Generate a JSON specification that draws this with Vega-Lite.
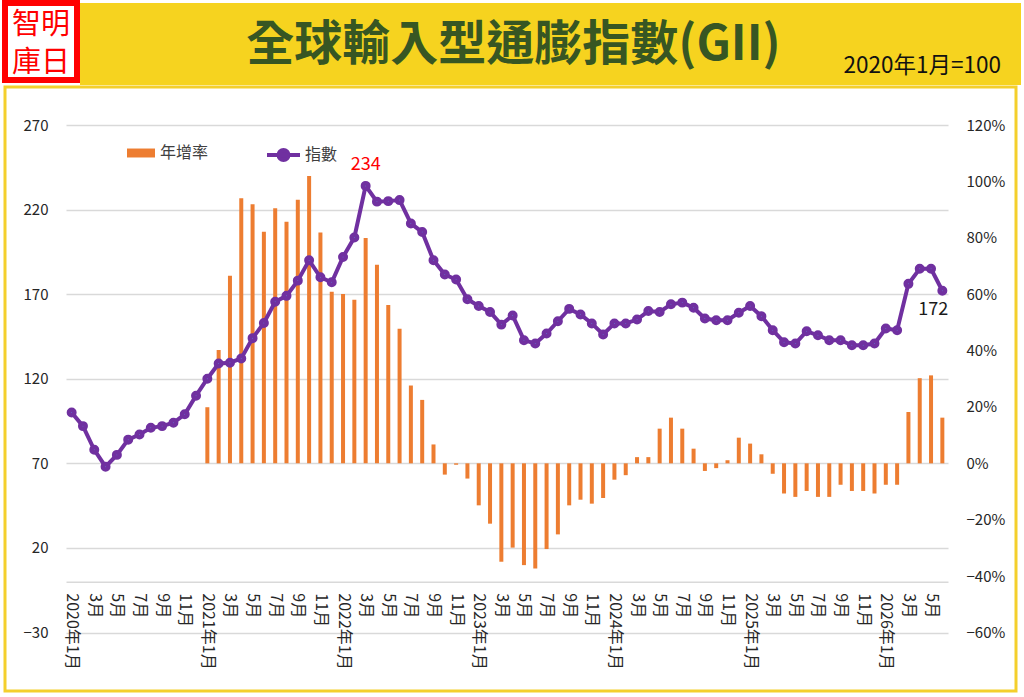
{
  "$schema": "https://vega.github.io/schema/vega-lite/v6.json",
  "background": "white",
  "padding": {"left": 2, "top": 0, "right": 6, "bottom": 5},
  "config": {
    "font": "Noto Sans CJK TC",
    "view": {"stroke": null},
    "concat": {"spacing": 0}
  },
  "datasets": {
    "gii": [
      {"month": "2020-01", "index": 100},
      {"month": "2020-02", "index": 92},
      {"month": "2020-03", "index": 78},
      {"month": "2020-04", "index": 68},
      {"month": "2020-05", "index": 75},
      {"month": "2020-06", "index": 84},
      {"month": "2020-07", "index": 87},
      {"month": "2020-08", "index": 91},
      {"month": "2020-09", "index": 92},
      {"month": "2020-10", "index": 94},
      {"month": "2020-11", "index": 99},
      {"month": "2020-12", "index": 110},
      {"month": "2021-01", "index": 120, "yoy": 0.199},
      {"month": "2021-02", "index": 129, "yoy": 0.402},
      {"month": "2021-03", "index": 129.5, "yoy": 0.665},
      {"month": "2021-04", "index": 132, "yoy": 0.94},
      {"month": "2021-05", "index": 144, "yoy": 0.919},
      {"month": "2021-06", "index": 153, "yoy": 0.821},
      {"month": "2021-07", "index": 165.5, "yoy": 0.905},
      {"month": "2021-08", "index": 169, "yoy": 0.857},
      {"month": "2021-09", "index": 178, "yoy": 0.935},
      {"month": "2021-10", "index": 190, "yoy": 1.019},
      {"month": "2021-11", "index": 180, "yoy": 0.819},
      {"month": "2021-12", "index": 177, "yoy": 0.609},
      {"month": "2022-01", "index": 192, "yoy": 0.601},
      {"month": "2022-02", "index": 203.5, "yoy": 0.58},
      {"month": "2022-03", "index": 234, "yoy": 0.799},
      {"month": "2022-04", "index": 224.7, "yoy": 0.704},
      {"month": "2022-05", "index": 225, "yoy": 0.562},
      {"month": "2022-06", "index": 225.6, "yoy": 0.477},
      {"month": "2022-07", "index": 211.8, "yoy": 0.276},
      {"month": "2022-08", "index": 206.7, "yoy": 0.225},
      {"month": "2022-09", "index": 190, "yoy": 0.067},
      {"month": "2022-10", "index": 181.6, "yoy": -0.04},
      {"month": "2022-11", "index": 178.7, "yoy": -0.005},
      {"month": "2022-12", "index": 167, "yoy": -0.054},
      {"month": "2023-01", "index": 163, "yoy": -0.149},
      {"month": "2023-02", "index": 159.5, "yoy": -0.214},
      {"month": "2023-03", "index": 152, "yoy": -0.349},
      {"month": "2023-04", "index": 157.4, "yoy": -0.299},
      {"month": "2023-05", "index": 142.8, "yoy": -0.361},
      {"month": "2023-06", "index": 140.8, "yoy": -0.373},
      {"month": "2023-07", "index": 146.7, "yoy": -0.304},
      {"month": "2023-08", "index": 154, "yoy": -0.252},
      {"month": "2023-09", "index": 161.3, "yoy": -0.149},
      {"month": "2023-10", "index": 158, "yoy": -0.129},
      {"month": "2023-11", "index": 152.7, "yoy": -0.143},
      {"month": "2023-12", "index": 146.2, "yoy": -0.123},
      {"month": "2024-01", "index": 152.7, "yoy": -0.058},
      {"month": "2024-02", "index": 152.7, "yoy": -0.042},
      {"month": "2024-03", "index": 155, "yoy": 0.022},
      {"month": "2024-04", "index": 160, "yoy": 0.022},
      {"month": "2024-05", "index": 159.5, "yoy": 0.123},
      {"month": "2024-06", "index": 164, "yoy": 0.162},
      {"month": "2024-07", "index": 165, "yoy": 0.123},
      {"month": "2024-08", "index": 162, "yoy": 0.052},
      {"month": "2024-09", "index": 155.6, "yoy": -0.027},
      {"month": "2024-10", "index": 154.6, "yoy": -0.017},
      {"month": "2024-11", "index": 154.6, "yoy": 0.011},
      {"month": "2024-12", "index": 159, "yoy": 0.091},
      {"month": "2025-01", "index": 163, "yoy": 0.07},
      {"month": "2025-02", "index": 157, "yoy": 0.032},
      {"month": "2025-03", "index": 148.7, "yoy": -0.037},
      {"month": "2025-04", "index": 141.6, "yoy": -0.107},
      {"month": "2025-05", "index": 140.8, "yoy": -0.119},
      {"month": "2025-06", "index": 148.1, "yoy": -0.098},
      {"month": "2025-07", "index": 145.7, "yoy": -0.119},
      {"month": "2025-08", "index": 142.8, "yoy": -0.119},
      {"month": "2025-09", "index": 142.8, "yoy": -0.076},
      {"month": "2025-10", "index": 139.8, "yoy": -0.098},
      {"month": "2025-11", "index": 139.8, "yoy": -0.098},
      {"month": "2025-12", "index": 140.8, "yoy": -0.107},
      {"month": "2026-01", "index": 149.7, "yoy": -0.076},
      {"month": "2026-02", "index": 148.7, "yoy": -0.076},
      {"month": "2026-03", "index": 176.1, "yoy": 0.182},
      {"month": "2026-04", "index": 185, "yoy": 0.302},
      {"month": "2026-05", "index": 185, "yoy": 0.312},
      {"month": "2026-06", "index": 172, "yoy": 0.162}
    ]
  },
  "spacing": 0,
  "vconcat": [
    {
      "spacing": 0,
      "hconcat": [
        {
          "width": 72,
          "height": 77,
          "view": {"fill": "white", "stroke": "#FF0000", "strokeWidth": 6},
          "data": {"values": [{"logo": ["智明", "庫日"]}]},
          "mark": {"type": "text", "color": "#FF0000", "fontSize": 29, "lineHeight": 38, "align": "center", "baseline": "middle", "dy": -17},
          "encoding": {"text": {"field": "logo"}}
        },
        {
          "width": 941,
          "height": 82,
          "view": {"fill": "#F6D31F", "stroke": null},
          "data": {"values": [{"title": "全球輸入型通膨指數(GII)", "unit": "2020年1月=100"}]},
          "layer": [
            {
              "mark": {"type": "text", "color": "#375623", "fontSize": 48, "fontWeight": "bold", "align": "center", "baseline": "middle", "dx": -37, "dy": 2},
              "encoding": {"text": {"field": "title"}}
            },
            {
              "mark": {"type": "text", "color": "#111111", "fontSize": 22.5, "align": "right", "baseline": "middle", "dx": -20, "dy": 22},
              "encoding": {"x": {"value": "width"}, "text": {"field": "unit"}}
            }
          ]
        }
      ]
    },
    {
      "width": 1011,
      "height": 604,
      "view": {"fill": "white", "stroke": "#F4CF2C", "strokeWidth": 3},
      "data": {"name": "gii"},
      "encoding": {
        "x": {
          "field": "month",
          "type": "ordinal",
          "scale": {"type": "point", "range": [61, 943], "padding": 0.5},
          "axis": {
            "title": null,
            "orient": "bottom",
            "offset": -109.25,
            "domainColor": "#D9D9D9",
            "domainWidth": 1.5,
            "ticks": false,
            "grid": false,
            "labelAngle": 90,
            "labelAlign": "left",
            "labelBaseline": "middle",
            "labelPadding": 11,
            "labelFontSize": 16,
            "labelColor": "#262626",
            "labelOverlap": false,
            "labelExpr": "toNumber(slice(datum.value, 5)) % 2 == 0 ? '' : (slice(datum.value, 5) == '01' ? slice(datum.value, 0, 4) + '年1月' : toNumber(slice(datum.value, 5)) + '月')"
          }
        }
      },
      "layer": [
        {
          "mark": {"type": "bar", "size": 4},
          "encoding": {
            "y": {
              "field": "yoy",
              "type": "quantitative",
              "scale": {"domain": [-0.6, 1.2], "range": [545.5, 38], "nice": false, "zero": false},
              "axis": {
                "title": null,
                "orient": "right",
                "offset": -50,
                "values": [-0.6, -0.4, -0.2, 0, 0.2, 0.4, 0.6, 0.8, 1.0, 1.2],
                "format": ".0%",
                "ticks": false,
                "domain": false,
                "grid": false,
                "labelPadding": 0,
                "labelFontSize": 15,
                "labelColor": "#262626"
              }
            },
            "fill": {
              "datum": "年增率",
              "scale": {"range": ["#ED7D31"]},
              "legend": {
                "title": null,
                "orient": "none",
                "legendX": 122,
                "legendY": 136,
                "padding": 0,
                "symbolType": "M-1,-0.32H1V0.32H-1Z",
                "symbolSize": 784,
                "symbolStrokeWidth": 0,
                "labelFontSize": 16,
                "labelColor": "#404040",
                "labelOffset": 5
              }
            }
          }
        },
        {
          "encoding": {
            "y": {
              "field": "index",
              "type": "quantitative",
              "scale": {"domain": [-30, 270], "range": [545.5, 38], "nice": false, "zero": false},
              "axis": {
                "title": null,
                "orient": "left",
                "offset": -45,
                "values": [-30, 20, 70, 120, 170, 220, 270],
                "ticks": false,
                "domain": false,
                "grid": true,
                "gridColor": "#D9D9D9",
                "gridWidth": 1.5,
                "labelPadding": 2,
                "labelFontSize": 15,
                "labelColor": "#262626"
              }
            }
          },
          "layer": [
            {
              "mark": {"type": "line", "strokeWidth": 4},
              "encoding": {
                "stroke": {
                  "datum": "指數",
                  "scale": {"range": ["#7030A0"]},
                  "legend": {
                    "title": null,
                    "orient": "none",
                    "legendX": 260,
                    "legendY": 133.5,
                    "padding": 0,
                    "symbolType": "M-1,0H1M0.3,0A0.3,0.3,0,1,1,-0.3,0A0.3,0.3,0,1,1,0.3,0Z",
                    "symbolSize": 1089,
                    "symbolStrokeWidth": 4,
                    "symbolFillColor": "#7030A0",
                    "labelFontSize": 16,
                    "labelColor": "#404040",
                    "labelOffset": 3
                  }
                }
              }
            },
            {
              "mark": {"type": "point", "shape": "circle", "filled": true, "fill": "#5B7FD6", "stroke": "#7030A0", "strokeWidth": 4.5, "size": 30, "opacity": 1}
            },
            {
              "transform": [{"filter": "datum.month === '2022-03'"}],
              "mark": {"type": "text", "color": "#FF0000", "fontSize": 18, "baseline": "middle", "dy": -21},
              "encoding": {"text": {"field": "index", "type": "quantitative", "format": ".0f"}}
            },
            {
              "transform": [{"filter": "datum.month === '2026-06'"}],
              "mark": {"type": "text", "color": "#1A1A1A", "fontSize": 18, "baseline": "middle", "dx": -9, "dy": 19},
              "encoding": {"text": {"field": "index", "type": "quantitative", "format": ".0f"}}
            }
          ]
        }
      ],
      "resolve": {"scale": {"y": "independent"}}
    }
  ]
}
